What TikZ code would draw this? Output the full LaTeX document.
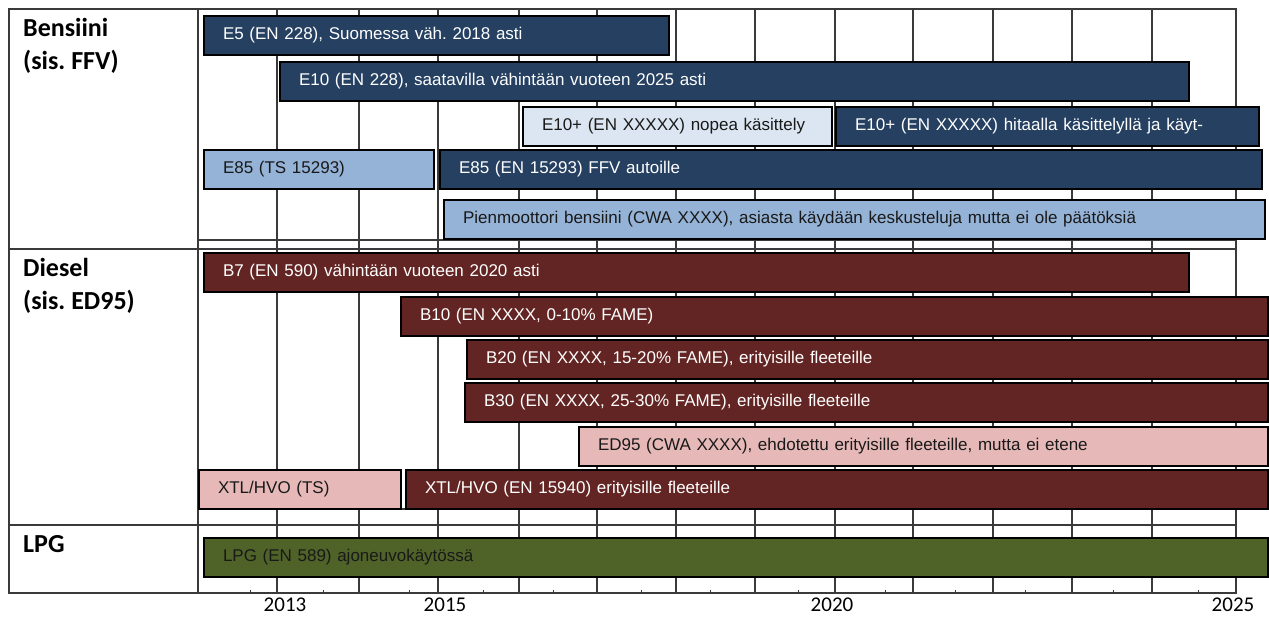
\documentclass[tikz,border=0pt]{standalone}
\usepackage{fontspec}
\setmainfont{Liberation Sans}
\newfontfamily\calibri{Carlito}
\usepackage{tikz}
\usetikzlibrary{positioning,backgrounds}
\definecolor{petrolcolor}{HTML}{254061}
\definecolor{petrollight}{HTML}{95B3D7}
\definecolor{petrolpale}{HTML}{DCE6F2}
\definecolor{dieselcolor}{HTML}{632523}
\definecolor{dieselpale}{HTML}{E6B9B8}
\definecolor{lpgcolor}{HTML}{4F6228}
\definecolor{gridcolor}{HTML}{3A3A3A}
\frenchspacing

\begin{document}
\begin{tikzpicture}[
    x=1pt, y=-1pt,
    font=\fontsize{17}{20}\selectfont,
    bar/.style={rectangle, draw=black, line width=2pt, anchor=west, minimum height=39pt, inner xsep=19pt, inner ysep=0pt, align=left},
    petrolbar/.style={bar, fill=petrolcolor, text=white},
    petrollightbar/.style={bar, fill=petrollight, text=black!90},
    petrolpalebar/.style={bar, fill=petrolpale, text=black!90},
    dieselbar/.style={bar, fill=dieselcolor, text=white},
    dieselpalebar/.style={bar, fill=dieselpale, text=black!90},
    lpgbar/.style={bar, fill=lpgcolor, text=black!90},
    fuel/.style={anchor=north west, inner sep=0pt, align=left, font=\calibri\bfseries\fontsize{26}{33}\selectfont},
    year/.style={inner sep=0pt, font=\calibri\fontsize{21}{25}\selectfont},
    gridline/.style={draw=gridcolor, line width=1.1pt}
]
    \useasboundingbox (0,0) rectangle (1269,616);

    % table frame and year grid
    \foreach \gx in {277,359,438,519,597,676,755,835,913,993,1072,1152}
        \draw[gridline] (\gx,9) -- (\gx,593);
    \draw[gridline] (9,9) rectangle (1236,593);
    \draw[gridline] (198,9) -- (198,593);
    \draw[gridline] (198,240) -- (1236,240);
    \draw[gridline] (9,249) -- (1236,249);
    \draw[gridline] (198,509) -- (1236,509);
    \draw[gridline] (9,525) -- (1236,525);
    \foreach \tx in {250,323,409,483,553,641,710,798,885,955,1025,1113,1198}
        \draw[gridline, line width=.8pt] (\tx,593) -- (\tx,590);

    \node[year] (y2013) at (285,605) {2013};
    \node[year] (y2015) at (445,605) {2015};
    \node[year] (y2020) at (832,605) {2020};
    \node[year] (y2025) at (1233,605) {2025};

    \node[fuel] (petrol) at (23,18) {Bensiini\\(sis. FFV)};
    \node[fuel] (diesel) at (23,258) {Diesel\\(sis. ED95)};
    \node[fuel] (lpg) at (23,535) {LPG};

    % Bensiini
    \node[petrolbar, text width=427pt] (e5) at (203,35.5) {E5 (EN 228), Suomessa väh. 2018 asti};
    \node[petrolbar, text width=871pt] (e10) at (279,81) {E10 (EN 228), saatavilla vähintään vuoteen 2025 asti};
    \node[petrolpalebar, text width=271pt] (e10fast) at (522,126.5) {E10+ (EN XXXXX) nopea käsittely};
    \node[petrolbar, text width=385pt] (e10slow) at (835,126.5) {E10+ (EN XXXXX) hitaalla käsittelyllä ja käyt-};
    \node[petrollightbar, text width=192pt] (e85ts) at (203,169.5) {E85 (TS 15293)};
    \node[petrolbar, text width=784pt] (e85en) at (439,169.5) {E85 (EN 15293) FFV autoille};
    \node[petrollightbar, text width=783pt] (smallengine) at (443,219.5) {Pienmoottori bensiini (CWA XXXX), asiasta käydään keskusteluja mutta ei ole päätöksiä};

    % Diesel
    \node[dieselbar, text width=947pt] (b7) at (203,272.5) {B7 (EN 590) vähintään vuoteen 2020 asti};
    \node[dieselbar, text width=829pt] (b10) at (400,316) {B10 (EN XXXX, 0-10\% FAME)};
    \node[dieselbar, text width=763pt] (b20) at (466,359) {B20 (EN XXXX, 15-20\% FAME), erityisille fleeteille};
    \node[dieselbar, text width=765pt] (b30) at (464,402.5) {B30 (EN XXXX, 25-30\% FAME), erityisille fleeteille};
    \node[dieselpalebar, text width=651pt] (ed95) at (578,446) {ED95 (CWA XXXX), ehdotettu erityisille fleeteille, mutta ei etene};
    \node[dieselpalebar, text width=164pt] (xtlts) at (198,489) {XTL/HVO (TS)};
    \node[dieselbar, text width=824pt] (xtlen) at (405,489) {XTL/HVO (EN 15940) erityisille fleeteille};

    % LPG
    \node[lpgbar, text width=1026pt] (lpgbar) at (203,557) {LPG (EN 589) ajoneuvokäytössä};

\end{tikzpicture}
\end{document}
